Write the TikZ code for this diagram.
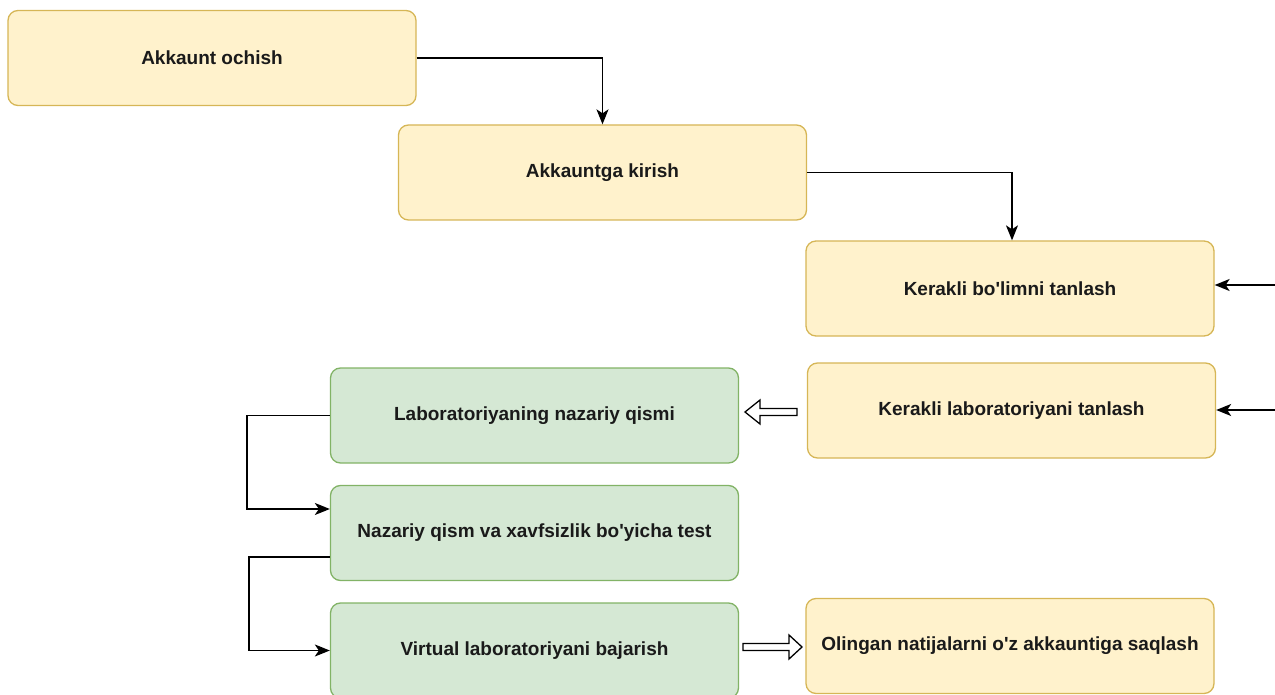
\documentclass[tikz,border=0pt]{standalone}
\usepackage{fontspec}
\setmainfont{Liberation Sans}
\usetikzlibrary{arrows.meta,calc}
\definecolor{yfill}{HTML}{FFF2CC}
\definecolor{ystroke}{HTML}{D6B656}
\definecolor{gfill}{HTML}{D5E8D4}
\definecolor{gstroke}{HTML}{82B366}
\definecolor{txt}{HTML}{1A1A1A}
\tikzset{
  ybox/.style={draw=ystroke, fill=yfill, rounded corners=10pt, line width=1.3pt,
    minimum width=408pt, minimum height=95pt, inner sep=0pt, text=txt,
    font=\fontsize{19}{22}\selectfont\bfseries},
  gbox/.style={ybox, draw=gstroke, fill=gfill},
  conn/.style={line width=1.3pt, -{Stealth[length=15pt,width=12pt,inset=4pt]}},
  hollow/.style={draw=black, fill=white, line width=1.3pt, line join=miter}
}
\begin{document}
\begin{tikzpicture}[x=1pt,y=-1pt]
\useasboundingbox (0,0) rectangle (1275,695);
\node[ybox] (a) at (212,58) {Akkaunt ochish};
\node[ybox] (b) at (602.5,172.5) {Akkauntga kirish};
\node[ybox] (c) at (1010,288.5) {Kerakli bo\textquotesingle limni tanlash};
\node[ybox] (d) at (1011.5,410.5) {Kerakli laboratoriyani tanlash};
\node[gbox] (e) at (534.5,415.5) {Laboratoriyaning nazariy qismi};
\node[gbox] (f) at (534.5,533) {Nazariy qism va xavfsizlik bo\textquotesingle yicha test};
\node[gbox] (g) at (534.5,650.5) {Virtual laboratoriyani bajarish};
\node[ybox] (h) at (1010,646) {Olingan natijalarni o\textquotesingle z akkauntiga saqlash};

\coordinate (r1) at (1276,285);
\coordinate (r2) at (1276,410);
\coordinate (k1) at (247,0);
\coordinate (k2) at (249,0);
\coordinate (fin) at ([yshift=24pt]f.west);
\coordinate (fout) at ([yshift=-24pt]f.west);

\draw[conn] (a.east) -| (b.north);
\draw[conn] (b.east) -| ([xshift=2pt]c.north);
\draw[conn] (r1) -- (r1 -| c.east);
\draw[conn] (r2) -- (r2 -| d.east);
\draw[conn] (e.west) -- (k1 |- e.west) |- (fin);
\draw[conn] (fout) -- (k2 |- fout) |- (g.west);

\coordinate (h1) at (797,412);
\draw[hollow] (h1) ++(0,-3.5) -- ++(-37,0) -- ++(0,-8.5) -- ++(-15,12) -- ++(15,12) -- ++(0,-8.5) -- ++(37,0) -- cycle;
\coordinate (h2) at (743,647);
\draw[hollow] (h2) ++(0,-3.5) -- ++(46,0) -- ++(0,-8.5) -- ++(13,12) -- ++(-13,12) -- ++(0,-8.5) -- ++(-46,0) -- cycle;
\end{tikzpicture}
\end{document}
